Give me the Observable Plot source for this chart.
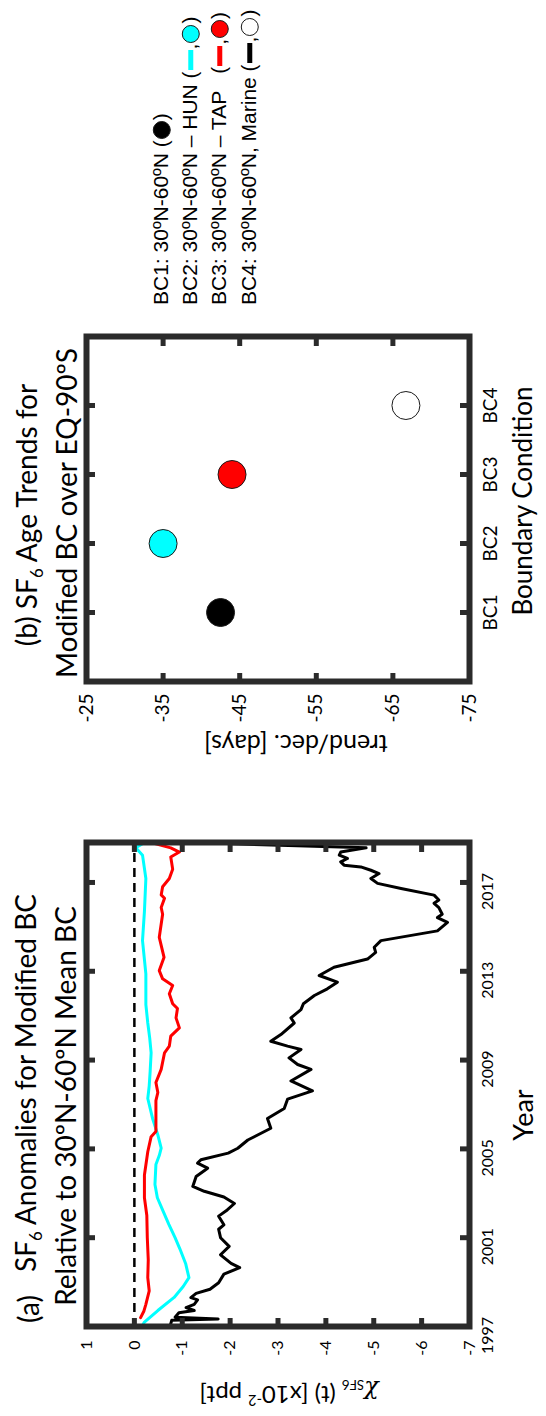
<!DOCTYPE html>
<html><head><meta charset="utf-8">
<script src="https://cdn.jsdelivr.net/npm/d3@7"></script>
<script src="https://cdn.jsdelivr.net/npm/@observablehq/plot@0.6"></script>
<style>
html,body{margin:0;padding:0;width:546px;height:1416px;overflow:hidden;background:#fff;}
#fig{position:absolute;left:0;top:0;width:1416px;height:546px;transform-origin:0 0;transform:translate(0,1416px) rotate(-90deg);background:#fff;}
.abs{position:absolute;white-space:nowrap;line-height:1;}
.c{transform:translate(-50%,-50%);}
.r{transform:translate(-50%,-50%) rotate(-90deg);}
.t{font-family:Lato,sans-serif;color:#000;}
.lg{position:absolute;left:1111px;font-family:"Liberation Sans",Arial,sans-serif;font-size:21px;white-space:nowrap;line-height:1;transform:translateY(-50%);}
.lg svg{vertical-align:middle;}
</style></head><body><div id="fig"></div>
<script>
// ---------- data ----------
const yearTicks = [1997, 2001, 2005, 2009, 2013, 2017];
const anomalyTicks = [1, 0, -1, -2, -3, -4, -5, -6, -7];
// BC4 (Marine) anomaly, black line: [year, value x10^-2 ppt]
const anomBC4 = [[1997.05,-0.75],[1997.28,-0.78],[1997.34,-1.75],[1997.42,-0.85],[1997.62,-0.93],[1997.72,-1.25],[1997.85,-1.08],[1998.0,-1.25],[1998.2,-1.32],[1998.3,-1.18],[1998.49,-1.29],[1998.68,-1.58],[1998.97,-1.76],[1999.36,-1.87],[1999.65,-2.2],[1999.84,-2.02],[2000.23,-1.8],[2000.61,-1.98],[2001.0,-1.8],[2001.38,-1.76],[2001.58,-1.87],[2001.97,-1.76],[2002.25,-1.94],[2002.54,-2.09],[2002.83,-1.87],[2003.09,-1.46],[2003.31,-1.22],[2003.76,-1.29],[2004.13,-1.53],[2004.36,-1.32],[2004.51,-1.39],[2004.81,-1.96],[2005.03,-2.16],[2005.4,-2.37],[2005.93,-2.85],[2006.37,-2.78],[2006.82,-3.13],[2007.24,-3.2],[2007.61,-3.72],[2008.06,-3.27],[2008.58,-3.69],[2008.8,-3.41],[2009.1,-3.23],[2009.48,-3.48],[2009.63,-3.2],[2009.85,-2.85],[2010.15,-3.06],[2010.67,-3.34],[2010.9,-3.27],[2011.27,-3.48],[2011.54,-3.53],[2011.91,-3.76],[2012.21,-4.03],[2012.51,-4.24],[2012.81,-3.86],[2013.18,-4.17],[2013.55,-4.87],[2013.85,-5.04],[2014.08,-5.01],[2014.38,-5.15],[2014.82,-6.33],[2015.2,-6.54],[2015.42,-6.33],[2015.57,-6.43],[2015.87,-6.36],[2016.06,-6.26],[2016.21,-6.36],[2016.43,-6.26],[2016.73,-5.57],[2016.96,-5.08],[2017.18,-4.94],[2017.4,-5.11],[2017.55,-4.94],[2017.7,-4.73],[2017.78,-4.38],[2017.93,-4.31],[2018.08,-4.45],[2018.23,-4.28],[2018.37,-4.31],[2018.56,-4.84],[2018.74,-1.98]];
// BC2 (HUN) anomaly, cyan line
const anomBC2 = [[1997.05,-0.17],[1997.2,-0.21],[1997.72,-0.49],[1998.31,-0.83],[1998.8,-1.02],[1999.2,-1.14],[1999.84,-1.07],[2000.5,-0.95],[2001.0,-0.85],[2001.6,-0.72],[2002.2,-0.6],[2002.8,-0.48],[2003.4,-0.43],[2004.3,-0.45],[2004.7,-0.52],[2005.03,-0.56],[2005.63,-0.49],[2006.37,-0.38],[2007.27,-0.28],[2007.84,-0.31],[2008.5,-0.33],[2009.33,-0.35],[2010.0,-0.32],[2010.67,-0.28],[2011.5,-0.24],[2012.88,-0.24],[2014.38,-0.17],[2015.7,-0.21],[2017.18,-0.24],[2018.23,-0.17],[2018.56,-0.03],[2018.75,-0.17]];
// BC3 (TAP) anomaly, red line
const anomBC3 = [[1997.4,-0.13],[1997.7,-0.2],[1998.0,-0.24],[1998.6,-0.31],[1999.2,-0.28],[2000.0,-0.29],[2001.0,-0.27],[2002.0,-0.26],[2002.8,-0.21],[2003.82,-0.21],[2004.87,-0.28],[2005.55,-0.35],[2005.78,-0.45],[2006.37,-0.45],[2007.17,-0.45],[2007.54,-0.49],[2007.99,-0.45],[2008.58,-0.56],[2009.33,-0.63],[2009.63,-0.73],[2010.08,-0.76],[2010.45,-0.94],[2010.9,-0.87],[2011.32,-0.9],[2011.54,-0.8],[2011.99,-0.73],[2012.36,-0.8],[2012.66,-0.59],[2013.03,-0.52],[2013.63,-0.62],[2014.53,-0.52],[2015.57,-0.59],[2015.87,-0.56],[2016.29,-0.63],[2016.44,-0.56],[2016.81,-0.59],[2017.18,-0.73],[2017.6,-0.8],[2018.15,-0.76],[2018.37,-0.94],[2018.56,-0.76],[2018.8,-0.35]];
// panel (b)
const bcLabels = ["BC1", "BC2", "BC3", "BC4"];
const bcTrend = [-42.5, -35.0, -44.0, -66.7];
const bcFill = ["#000000", "#00ffff", "#ff0000", "#ffffff"];
const trendTicks = [-25, -35, -45, -55, -65, -75];

const FRAME = "#2b2b2b";
const fig = document.getElementById("fig");
function add(html, cls, x, y, style) {
  const d = document.createElement("div");
  d.className = "abs " + cls;
  d.style.left = x + "px"; d.style.top = y + "px";
  if (style) d.style.cssText += style;
  d.innerHTML = html;
  fig.appendChild(d);
  return d;
}
const toRows = a => a.map(([x, y]) => ({x, y}));

// ---------- panel (a) ----------
{
  const W = 590, H = 546, mL = 89, mR = 17, mT = 86, mB = 77;
  const fw = W - mL - mR, fh = H - mT - mB, tl = 9;
  const inner = yearTicks.slice(1);
  const innerY = anomalyTicks.slice(1, -1);
  const p = Plot.plot({
    width: W, height: H, marginLeft: mL, marginRight: mR, marginTop: mT, marginBottom: mB,
    x: {domain: [1997, 2018.8]},
    y: {domain: [-7, 1]},
    style: {fontFamily: "Lato", fontSize: "16px", color: "#000", background: "transparent", overflow: "visible"},
    marks: [
      Plot.ruleY([0], {stroke: "#000", strokeWidth: 2.5, strokeDasharray: "9,6"}),
      Plot.line(toRows(anomBC4), {x: "x", y: "y", stroke: "#000", strokeWidth: 3}),
      Plot.line(toRows(anomBC2), {x: "x", y: "y", stroke: "#00ffff", strokeWidth: 3}),
      Plot.line(toRows(anomBC3), {x: "x", y: "y", stroke: "#ff0000", strokeWidth: 3}),
      Plot.frame({stroke: FRAME, strokeWidth: 6}),
      Plot.tickX(inner, {x: d => d, stroke: FRAME, strokeWidth: 5, insetBottom: fh - tl}),
      Plot.tickX(inner, {x: d => d, stroke: FRAME, strokeWidth: 5, insetTop: fh - tl}),
      Plot.tickY(innerY, {y: d => d, stroke: FRAME, strokeWidth: 5, insetRight: fw - tl}),
      Plot.tickY(innerY, {y: d => d, stroke: FRAME, strokeWidth: 5, insetLeft: fw - tl}),
      Plot.axisX(yearTicks, {anchor: "bottom", tickSize: 0, tickPadding: 12, dx: -9, tickFormat: d => String(d), label: null}),
      Plot.axisY(anomalyTicks, {anchor: "left", tickSize: 0, tickPadding: 14, tickFormat: d => String(d), label: null})
    ]
  });
  const w = document.createElement("div");
  w.style.cssText = `position:absolute;left:0;top:0;width:${W}px;height:${H}px;`;
  w.appendChild(p);
  fig.appendChild(w);
}

// ---------- panel (b) ----------
{
  const L = 640, W = 460, H = 546, mL = 94, mR = 21, mT = 86, mB = 77;
  const fw = W - mL - mR, fh = H - mT - mB, tl = 9;
  const pts = bcLabels.map((b, i) => ({i: i + 1, v: bcTrend[i], f: bcFill[i]}));
  const innerY = trendTicks.slice(1, -1);
  const p = Plot.plot({
    width: W, height: H, marginLeft: mL, marginRight: mR, marginTop: mT, marginBottom: mB,
    x: {domain: [0, 5]},
    y: {domain: [-75, -25]},
    style: {fontFamily: "Lato", fontSize: "19px", color: "#000", background: "transparent", overflow: "visible"},
    marks: [
      Plot.frame({stroke: FRAME, strokeWidth: 6}),
      Plot.tickX([1, 2, 3, 4], {x: d => d, stroke: FRAME, strokeWidth: 5, insetBottom: fh - tl}),
      Plot.tickX([1, 2, 3, 4], {x: d => d, stroke: FRAME, strokeWidth: 5, insetTop: fh - tl}),
      Plot.tickY(innerY, {y: d => d, stroke: FRAME, strokeWidth: 5, insetRight: fw - tl}),
      Plot.tickY(innerY, {y: d => d, stroke: FRAME, strokeWidth: 5, insetLeft: fw - tl}),
      Plot.dot(pts, {x: "i", y: "v", r: 14, fill: "f", stroke: "#1a1a1a", strokeWidth: 1}),
      Plot.axisX([1, 2, 3, 4], {anchor: "bottom", tickSize: 0, tickPadding: 14, tickFormat: d => bcLabels[d - 1], label: null}),
      Plot.axisY(trendTicks, {anchor: "left", tickSize: 0, tickPadding: 12, tickFormat: d => String(d), label: null})
    ]
  });
  const w = document.createElement("div");
  w.style.cssText = `position:absolute;left:${L}px;top:0;width:${W}px;height:${H}px;`;
  w.appendChild(p);
  fig.appendChild(w);
}

// ---------- titles & axis labels ----------
add("(a)", "c t", 107, 28, "font-size:28px;");
add("SF<sub style='font-size:60%'>6</sub> Anomalies for Modified BC", "c t", 333, 28, "font-size:28px;");
add("Relative to 30ºN-60ºN Mean BC", "c t", 310, 65, "font-size:28px;");
add("Year", "c t", 301, 522, "font-size:27px;");
add("<i style='font-family:\"DejaVu Serif\",serif'>χ</i><sub style='font-size:55%'>SF6</sub> (t) [x10<sup style='font-size:60%'>-2</sup> ppt]", "r t", 24, 289, "font-size:24px;");

add("(b) SF<sub style='font-size:60%'>6</sub> Age Trends for", "c t", 901, 29, "font-size:28px;");
add("Modified BC over EQ-90ºS", "c t", 903, 66, "font-size:28px;");
add("Boundary Condition", "c t", 915, 522, "font-size:26px;");
add("trend/dec. [days]", "r t", 672, 296, "font-size:25px;");

// ---------- legend ----------
function circ(fill) {
  return `<svg width="20" height="20" viewBox="0 0 20 20"><circle cx="10" cy="10" r="8.5" fill="${fill}" stroke="#1a1a1a" stroke-width="1"/></svg>`;
}
function seg(color) {
  return `<svg width="22" height="20" viewBox="0 0 22 20"><line x1="1" y1="10" x2="21" y2="10" stroke="${color}" stroke-width="5"/></svg>`;
}
const legendRows = [
  `BC1: 30ºN-60ºN (${circ(bcFill[0])})`,
  `BC2: 30ºN-60ºN – HUN (${seg("#00ffff")},${circ(bcFill[1])})`,
  `BC3: 30ºN-60ºN – TAP &nbsp;&nbsp;(${seg("#ff0000")},${circ(bcFill[2])})`,
  `BC4: 30ºN-60ºN, Marine (${seg("#000000")},${circ(bcFill[3])})`
];
const legendY = [161, 190, 219, 249];
legendRows.forEach((h, i) => {
  const d = document.createElement("div");
  d.className = "lg";
  d.style.top = legendY[i] + "px";
  d.innerHTML = h;
  fig.appendChild(d);
});
</script></body></html>
